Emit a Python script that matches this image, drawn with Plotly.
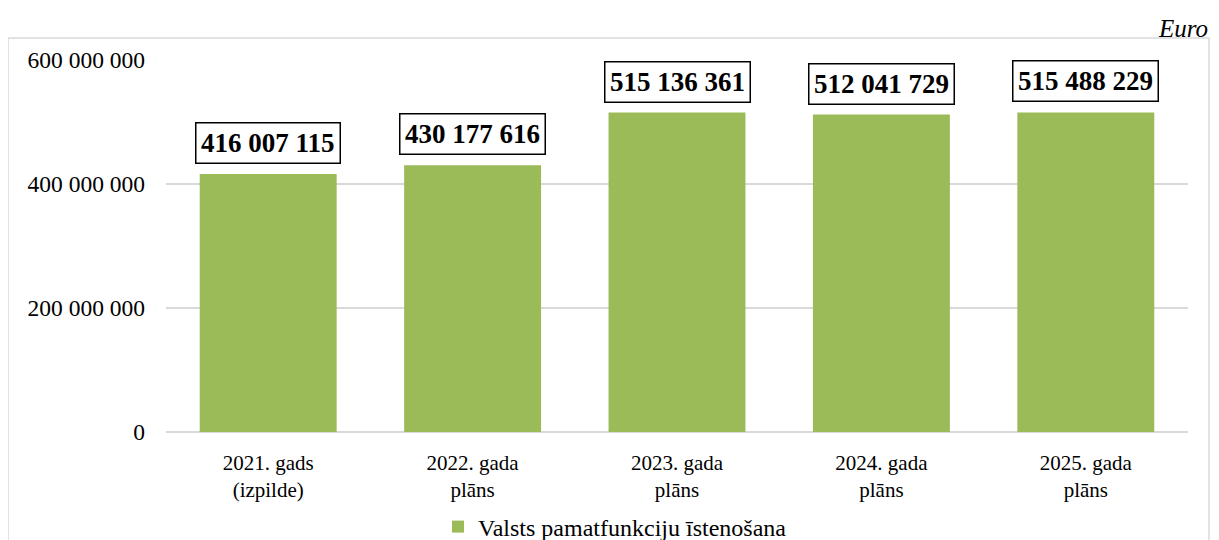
import plotly.graph_objects as go

categories = ["2021. gads<br>(izpilde)", "2022. gada<br>plāns", "2023. gada<br>plāns", "2024. gada<br>plāns", "2025. gada<br>plāns"]
values = [416007115, 430177616, 515136361, 512041729, 515488229]
tick_vals = [0, 200000000, 400000000, 600000000]
tick_text = ["0", "200 000 000", "400 000 000", "600 000 000"]
series_name = "Valsts pamatfunkciju īstenošana"

def fmt(v):
    return f"{v:,}".replace(",", " ")

# page has 8px body margin; work in reference pixel coords and subtract offset
OFF = 8
W, H = 1219 - OFF, 540 - OFF
PL, PR, PT, PB = 166, 1188, 60, 432  # plot area in reference coords
L, R, T, B = PL - OFF, W - (PR - OFF), PT - OFF, H - (PB - OFF)
pw, ph = W - L - R, H - T - B

def px(x):
    return (x - OFF - L) / pw

def py(y):
    return (H - B - (y - OFF)) / ph

fig = go.Figure()
fig.add_trace(go.Bar(
    x=categories, y=values, name=series_name,
    marker=dict(color="#9BBB59", line=dict(width=0)),
    width=0.67, showlegend=True,
))

for c, v in zip(categories, values):
    fig.add_annotation(
        x=c, y=v, text="<b>" + fmt(v) + "</b>", showarrow=False,
        yanchor="bottom", yshift=10,
        font=dict(family="Liberation Serif", size=27, color="black"),
        bgcolor="white", bordercolor="black", borderwidth=1.5, borderpad=4.5,
    )

fig.add_annotation(
    xref="paper", yref="paper", x=px(1210), y=py(28), xanchor="right", yanchor="middle",
    text="<i>Euro</i>", showarrow=False,
    font=dict(family="Liberation Serif", size=25, color="black"),
)

fig.add_shape(
    type="rect", xref="paper", yref="paper",
    x0=px(8), x1=px(1209), y0=py(570), y1=py(38),
    line=dict(color="#D9D9D9", width=1.5), fillcolor="rgba(0,0,0,0)", layer="below",
)

fig.update_layout(
    width=W, height=H,
    margin=dict(l=L, r=R, t=T, b=B, autoexpand=False),
    paper_bgcolor="white", plot_bgcolor="white",
    font=dict(family="Liberation Serif", size=21, color="black"),
    bargap=0.33,
    xaxis=dict(showgrid=False, showline=False, ticks="", tickfont=dict(size=21), tickangle=0,
               ticklabelstandoff=16),
    yaxis=dict(range=[0, 600000000], tickvals=tick_vals, ticktext=tick_text,
               showgrid=True, gridcolor="#D9D9D9", gridwidth=1.5,
               zeroline=True, zerolinecolor="#D9D9D9", zerolinewidth=1.5,
               showline=False, ticks="", ticklabelstandoff=20, tickfont=dict(size=23.5)),
    legend=dict(orientation="h", x=px(615), xanchor="center", y=py(527), yanchor="middle",
                font=dict(size=24), bgcolor="rgba(0,0,0,0)", itemwidth=30),
)

fig.write_html("out.html", post_script="document.body.style.overflow='hidden';")
